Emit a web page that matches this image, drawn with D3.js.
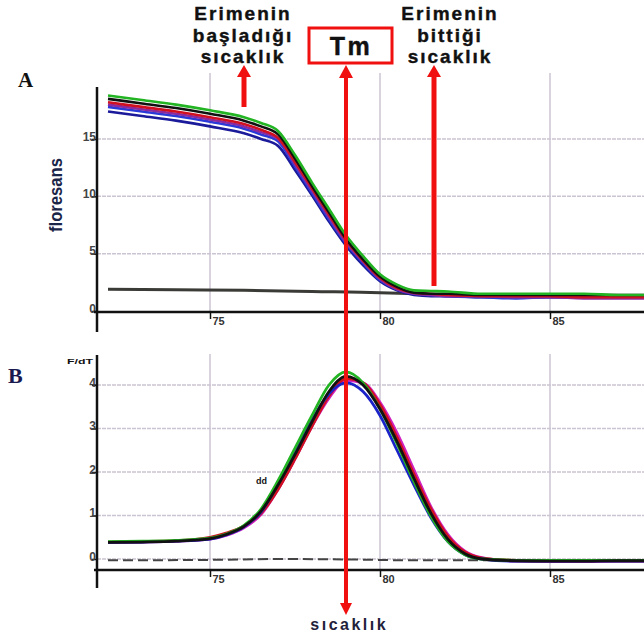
<!DOCTYPE html>
<html>
<head>
<meta charset="utf-8">
<script src="https://cdn.jsdelivr.net/npm/d3@7"></script>
<style>
  body { margin: 0; background: #fff; }
  svg { display: block; font-family: "Liberation Sans", Arial, sans-serif; }
</style>
</head>
<body>
<svg id="chart" width="644" height="635"></svg>
<script>
// panel A: melting curves (fluorescence vs temperature)
const tempA = [72, 73, 74, 75, 76, 76.5, 77, 77.5, 78, 78.5, 79, 79.5, 80, 80.5, 81, 81.5, 82, 83, 84, 85, 86, 87, 88];
const greenA = [18.8, 18.4, 18.0, 17.5, 16.9, 16.4, 15.7, 13.6, 11.2, 8.9, 6.6, 4.8, 3.2, 2.3, 1.8, 1.75, 1.7, 1.5, 1.5, 1.5, 1.5, 1.4, 1.4];
const blackA = [18.5, 18.1, 17.7, 17.2, 16.6, 16.1, 15.4, 13.3, 10.9, 8.6, 6.3, 4.5, 3.0, 2.1, 1.6, 1.5, 1.5, 1.4, 1.4, 1.4, 1.4, 1.4, 1.4];
const redA = [18.2, 17.8, 17.4, 16.9, 16.3, 15.8, 15.1, 13.0, 10.7, 8.4, 6.2, 4.4, 2.9, 2.0, 1.6, 1.5, 1.4, 1.3, 1.3, 1.3, 1.2, 1.2, 1.2];
const purpleA = [18.0, 17.6, 17.2, 16.7, 16.1, 15.6, 15.0, 12.8, 10.5, 8.2, 6.0, 4.3, 2.8, 1.9, 1.5, 1.4, 1.3, 1.3, 1.2, 1.2, 1.1, 1.1, 1.1];
const blueA = [17.8, 17.4, 17.0, 16.5, 15.9, 15.4, 14.8, 12.6, 10.3, 8.0, 5.9, 4.2, 2.7, 1.9, 1.5, 1.4, 1.3, 1.2, 1.1, 1.2, 1.2, 1.2, 1.2];
const navyA = [17.4, 17.0, 16.6, 16.1, 15.5, 15.0, 14.4, 12.3, 10.1, 7.8, 5.7, 4.0, 2.6, 1.8, 1.4, 1.3, 1.3, 1.2, 1.2, 1.2, 1.2, 1.3, 1.3];
const baseTempA = [72, 74, 76, 78, 80, 81];
const baseA = [1.9, 1.85, 1.8, 1.7, 1.6, 1.5];

// panel B: derivative curves (F/dT vs temperature)
const tempB = [72, 73, 74, 75, 75.5, 76, 76.5, 77, 77.5, 78, 78.5, 79, 79.5, 80, 80.5, 81, 81.5, 82, 82.5, 83, 84, 85, 86, 87, 88];
const greenB = [0.40, 0.41, 0.43, 0.48, 0.58, 0.77, 1.15, 1.80, 2.55, 3.30, 4.00, 4.30, 4.05, 3.45, 2.65, 1.78, 0.98, 0.40, 0.10, 0.00, -0.03, -0.03, -0.03, -0.03, -0.03];
const magentaB = [0.38, 0.39, 0.41, 0.46, 0.55, 0.72, 1.02, 1.60, 2.30, 3.05, 3.70, 4.10, 4.05, 3.60, 2.90, 2.05, 1.20, 0.56, 0.18, 0.03, -0.05, -0.06, -0.06, -0.05, -0.05];
const redB = [0.39, 0.40, 0.42, 0.50, 0.60, 0.76, 1.05, 1.60, 2.30, 3.05, 3.75, 4.15, 4.05, 3.55, 2.80, 1.95, 1.15, 0.52, 0.16, 0.02, -0.03, -0.03, -0.04, -0.04, -0.04];
const blueB = [0.38, 0.39, 0.41, 0.46, 0.56, 0.74, 1.08, 1.72, 2.45, 3.20, 3.80, 4.05, 3.85, 3.30, 2.50, 1.70, 0.95, 0.40, 0.10, 0.00, -0.05, -0.05, -0.05, -0.05, -0.05];
const blackB = [0.38, 0.39, 0.41, 0.47, 0.57, 0.75, 1.10, 1.70, 2.40, 3.15, 3.85, 4.20, 4.00, 3.45, 2.70, 1.85, 1.05, 0.45, 0.12, 0.00, -0.04, -0.05, -0.05, -0.04, -0.04];
const baseTempB = [72, 75, 77, 79, 81, 83, 85, 88];
const baseB = [-0.03, -0.02, 0.0, -0.01, -0.03, -0.03, -0.03, -0.03];

const xTicks = [75, 80, 85];
const yTicksA = [0, 5, 10, 15];
const yTicksB = [0, 1, 2, 3, 4];
const tm = 79;

const seriesA = [
  { values: navyA, color: "#1a1a9a" },
  { values: blueA, color: "#2a3ad8" },
  { values: purpleA, color: "#8a2aa0" },
  { values: redA, color: "#d01020" },
  { values: blackA, color: "#111111" },
  { values: greenA, color: "#22b422" },
];
const seriesB = [
  { values: magentaB, color: "#d020c0" },
  { values: redB, color: "#d01020" },
  { values: blueB, color: "#1a22c8" },
  { values: greenB, color: "#22b422" },
  { values: blackB, color: "#111111" },
];

const svg = d3.select("#chart");

const x = d3.scaleLinear().domain([75, 85]).range([210, 550]);
const yA = d3.scaleLinear().domain([0, 15]).range([311, 139]);
const yB = d3.scaleLinear().domain([0, 4]).range([559, 385]);

const gridColor = "#cbc4d2";

function drawPanel(y, yTicks, gridTop, axisTop, axisBottom, xAxisY) {
  const g = svg.append("g");
  // vertical grid
  g.selectAll(".vgrid").data(xTicks).join("line")
    .attr("x1", (d) => x(d)).attr("x2", (d) => x(d))
    .attr("y1", gridTop).attr("y2", xAxisY)
    .attr("stroke", gridColor).attr("stroke-width", 1.5);
  // horizontal grid
  g.selectAll(".hgrid").data(yTicks.filter((d) => d !== 0 || y === yB)).join("line")
    .attr("x1", 97).attr("x2", 644)
    .attr("y1", (d) => y(d)).attr("y2", (d) => y(d))
    .attr("stroke", gridColor).attr("stroke-width", 1.5)
    .attr("stroke-dasharray", "4,1");

  const yAxis = g.append("g")
    .attr("transform", "translate(97,0)")
    .call(d3.axisLeft(y).tickValues(yTicks).tickFormat(d3.format("d"))
      .tickSize(5).tickSizeOuter(0));
  yAxis.select(".domain").remove();
  yAxis.selectAll("line").attr("stroke", "#111").attr("stroke-width", 1.5);
  yAxis.selectAll("text")
    .attr("x", -1).attr("dy", "0.1em")
    .attr("font-size", 12).attr("font-weight", "bold")
    .attr("font-family", "Liberation Sans, Arial, sans-serif")
    .attr("fill", "#444");

  const xAxis = g.append("g")
    .attr("transform", `translate(0,${xAxisY})`)
    .call(d3.axisBottom(x).tickValues(xTicks).tickFormat(d3.format("d"))
      .tickSize(7).tickSizeOuter(0));
  xAxis.select(".domain").remove();
  xAxis.selectAll("line").attr("stroke", "#111").attr("stroke-width", 1.5);
  xAxis.selectAll("text")
    .attr("text-anchor", "start").attr("x", 2).attr("y", 5).attr("dy", "0.71em")
    .attr("font-size", 11).attr("font-weight", "bold")
    .attr("font-family", "Liberation Sans, Arial, sans-serif")
    .attr("fill", "#333");

  // axis lines
  g.append("line").attr("x1", 97).attr("x2", 97)
    .attr("y1", axisTop).attr("y2", axisBottom)
    .attr("stroke", "#111").attr("stroke-width", 2.5);
  g.append("line").attr("x1", 94).attr("x2", 644)
    .attr("y1", xAxisY).attr("y2", xAxisY)
    .attr("stroke", "#111").attr("stroke-width", 2.5);
}

drawPanel(yA, yTicksA, 73, 87, 332, 312);
drawPanel(yB, yTicksB, 354, 355, 588, 570);

// panel A curves
const lineA = d3.line().curve(d3.curveMonotoneX);
svg.append("path")
  .attr("d", lineA(baseTempA.map((t, i) => [x(t), yA(baseA[i])])))
  .attr("fill", "none").attr("stroke", "#3a3a36").attr("stroke-width", 3);
seriesA.forEach((s) => {
  svg.append("path")
    .attr("d", lineA(tempA.map((t, i) => [x(t), yA(s.values[i])])))
    .attr("fill", "none").attr("stroke", s.color).attr("stroke-width", 2.6);
});

// panel B curves
const lineB = d3.line().curve(d3.curveMonotoneX);
svg.append("path")
  .attr("d", lineB(baseTempB.map((t, i) => [x(t), yB(baseB[i])])))
  .attr("fill", "none").attr("stroke", "#444").attr("stroke-width", 2)
  .attr("stroke-dasharray", "10,5");
seriesB.forEach((s) => {
  svg.append("path")
    .attr("d", lineB(tempB.map((t, i) => [x(t), yB(s.values[i])])))
    .attr("fill", "none").attr("stroke", s.color).attr("stroke-width", 2.8);
});

// axis titles and panel letters
svg.append("text")
  .attr("transform", "translate(62,195) rotate(-90)")
  .attr("text-anchor", "middle")
  .attr("font-size", 18).attr("font-weight", "bold")
  .attr("textLength", 74).attr("lengthAdjust", "spacingAndGlyphs")
  .attr("fill", "#1b2548")
  .text("floresans");
svg.append("text")
  .attr("x", 67).attr("y", 364)
  .attr("font-size", 8).attr("font-weight", "bold")
  .attr("textLength", 26).attr("lengthAdjust", "spacingAndGlyphs")
  .attr("fill", "#111")
  .text("F/dT");
svg.append("text")
  .attr("x", 256).attr("y", 484)
  .attr("font-size", 9).attr("font-weight", "bold")
  .attr("fill", "#111")
  .text("dd");
svg.append("text")
  .attr("x", 18).attr("y", 87)
  .attr("font-family", "Liberation Serif, Times New Roman, serif")
  .attr("font-size", 21).attr("font-weight", "bold")
  .attr("fill", "#111")
  .text("A");
svg.append("text")
  .attr("x", 8).attr("y", 383)
  .attr("font-family", "Liberation Serif, Times New Roman, serif")
  .attr("font-size", 22).attr("font-weight", "bold")
  .attr("fill", "#1a1a50")
  .text("B");

// annotation labels
function label(lines, cx, size, spacing) {
  lines.forEach((l) => {
    svg.append("text")
      .attr("x", cx + spacing / 2).attr("y", l.y)
      .attr("text-anchor", "middle")
      .attr("font-size", size).attr("font-weight", "bold")
      .attr("letter-spacing", spacing)
      .attr("fill", "#111")
      .attr("stroke", "#111").attr("stroke-width", 0.4)
      .text(l.text);
  });
}
label([{ text: "Erimenin", y: 20 }, { text: "başladığı", y: 42 }, { text: "sıcaklık", y: 63 }], 242, 19, 2);
label([{ text: "Erimenin", y: 20 }, { text: "bittiği", y: 42 }, { text: "sıcaklık", y: 63 }], 449, 19, 2);

// Tm box
svg.append("rect")
  .attr("x", 309).attr("y", 28).attr("width", 83).attr("height", 35)
  .attr("fill", "none").attr("stroke", "#f01010").attr("stroke-width", 3);
svg.append("text")
  .attr("x", 351).attr("y", 55)
  .attr("text-anchor", "middle")
  .attr("font-size", 25).attr("font-weight", "bold")
  .attr("letter-spacing", 2.5)
  .attr("fill", "#111")
  .attr("stroke", "#111").attr("stroke-width", 0.4)
  .text("Tm");

// red arrows
const red = "#f01010";
function upArrow(ax, tipY, bottomY) {
  svg.append("line").attr("x1", ax).attr("x2", ax)
    .attr("y1", tipY + 10).attr("y2", bottomY)
    .attr("stroke", red).attr("stroke-width", 5);
  svg.append("path")
    .attr("d", `M${ax - 7},${tipY + 12}L${ax},${tipY}L${ax + 7},${tipY + 12}Z`)
    .attr("fill", red);
}
upArrow(244, 65, 107);
upArrow(434, 65, 286);

const tmX = x(tm);
svg.append("line").attr("x1", tmX).attr("x2", tmX)
  .attr("y1", 75).attr("y2", 604)
  .attr("stroke", red).attr("stroke-width", 4);
svg.append("path")
  .attr("d", `M${tmX - 7},${78}L${tmX},${65}L${tmX + 7},${78}Z`)
  .attr("fill", red);
svg.append("path")
  .attr("d", `M${tmX - 6},${603}L${tmX},${615}L${tmX + 6},${603}Z`)
  .attr("fill", red);

svg.append("text")
  .attr("x", tmX + 2 + 1.25).attr("y", 630)
  .attr("text-anchor", "middle")
  .attr("font-size", 16).attr("font-weight", "bold")
  .attr("letter-spacing", 2.5)
  .attr("fill", "#22223a")
  .text("sıcaklık");
</script>
</body>
</html>
